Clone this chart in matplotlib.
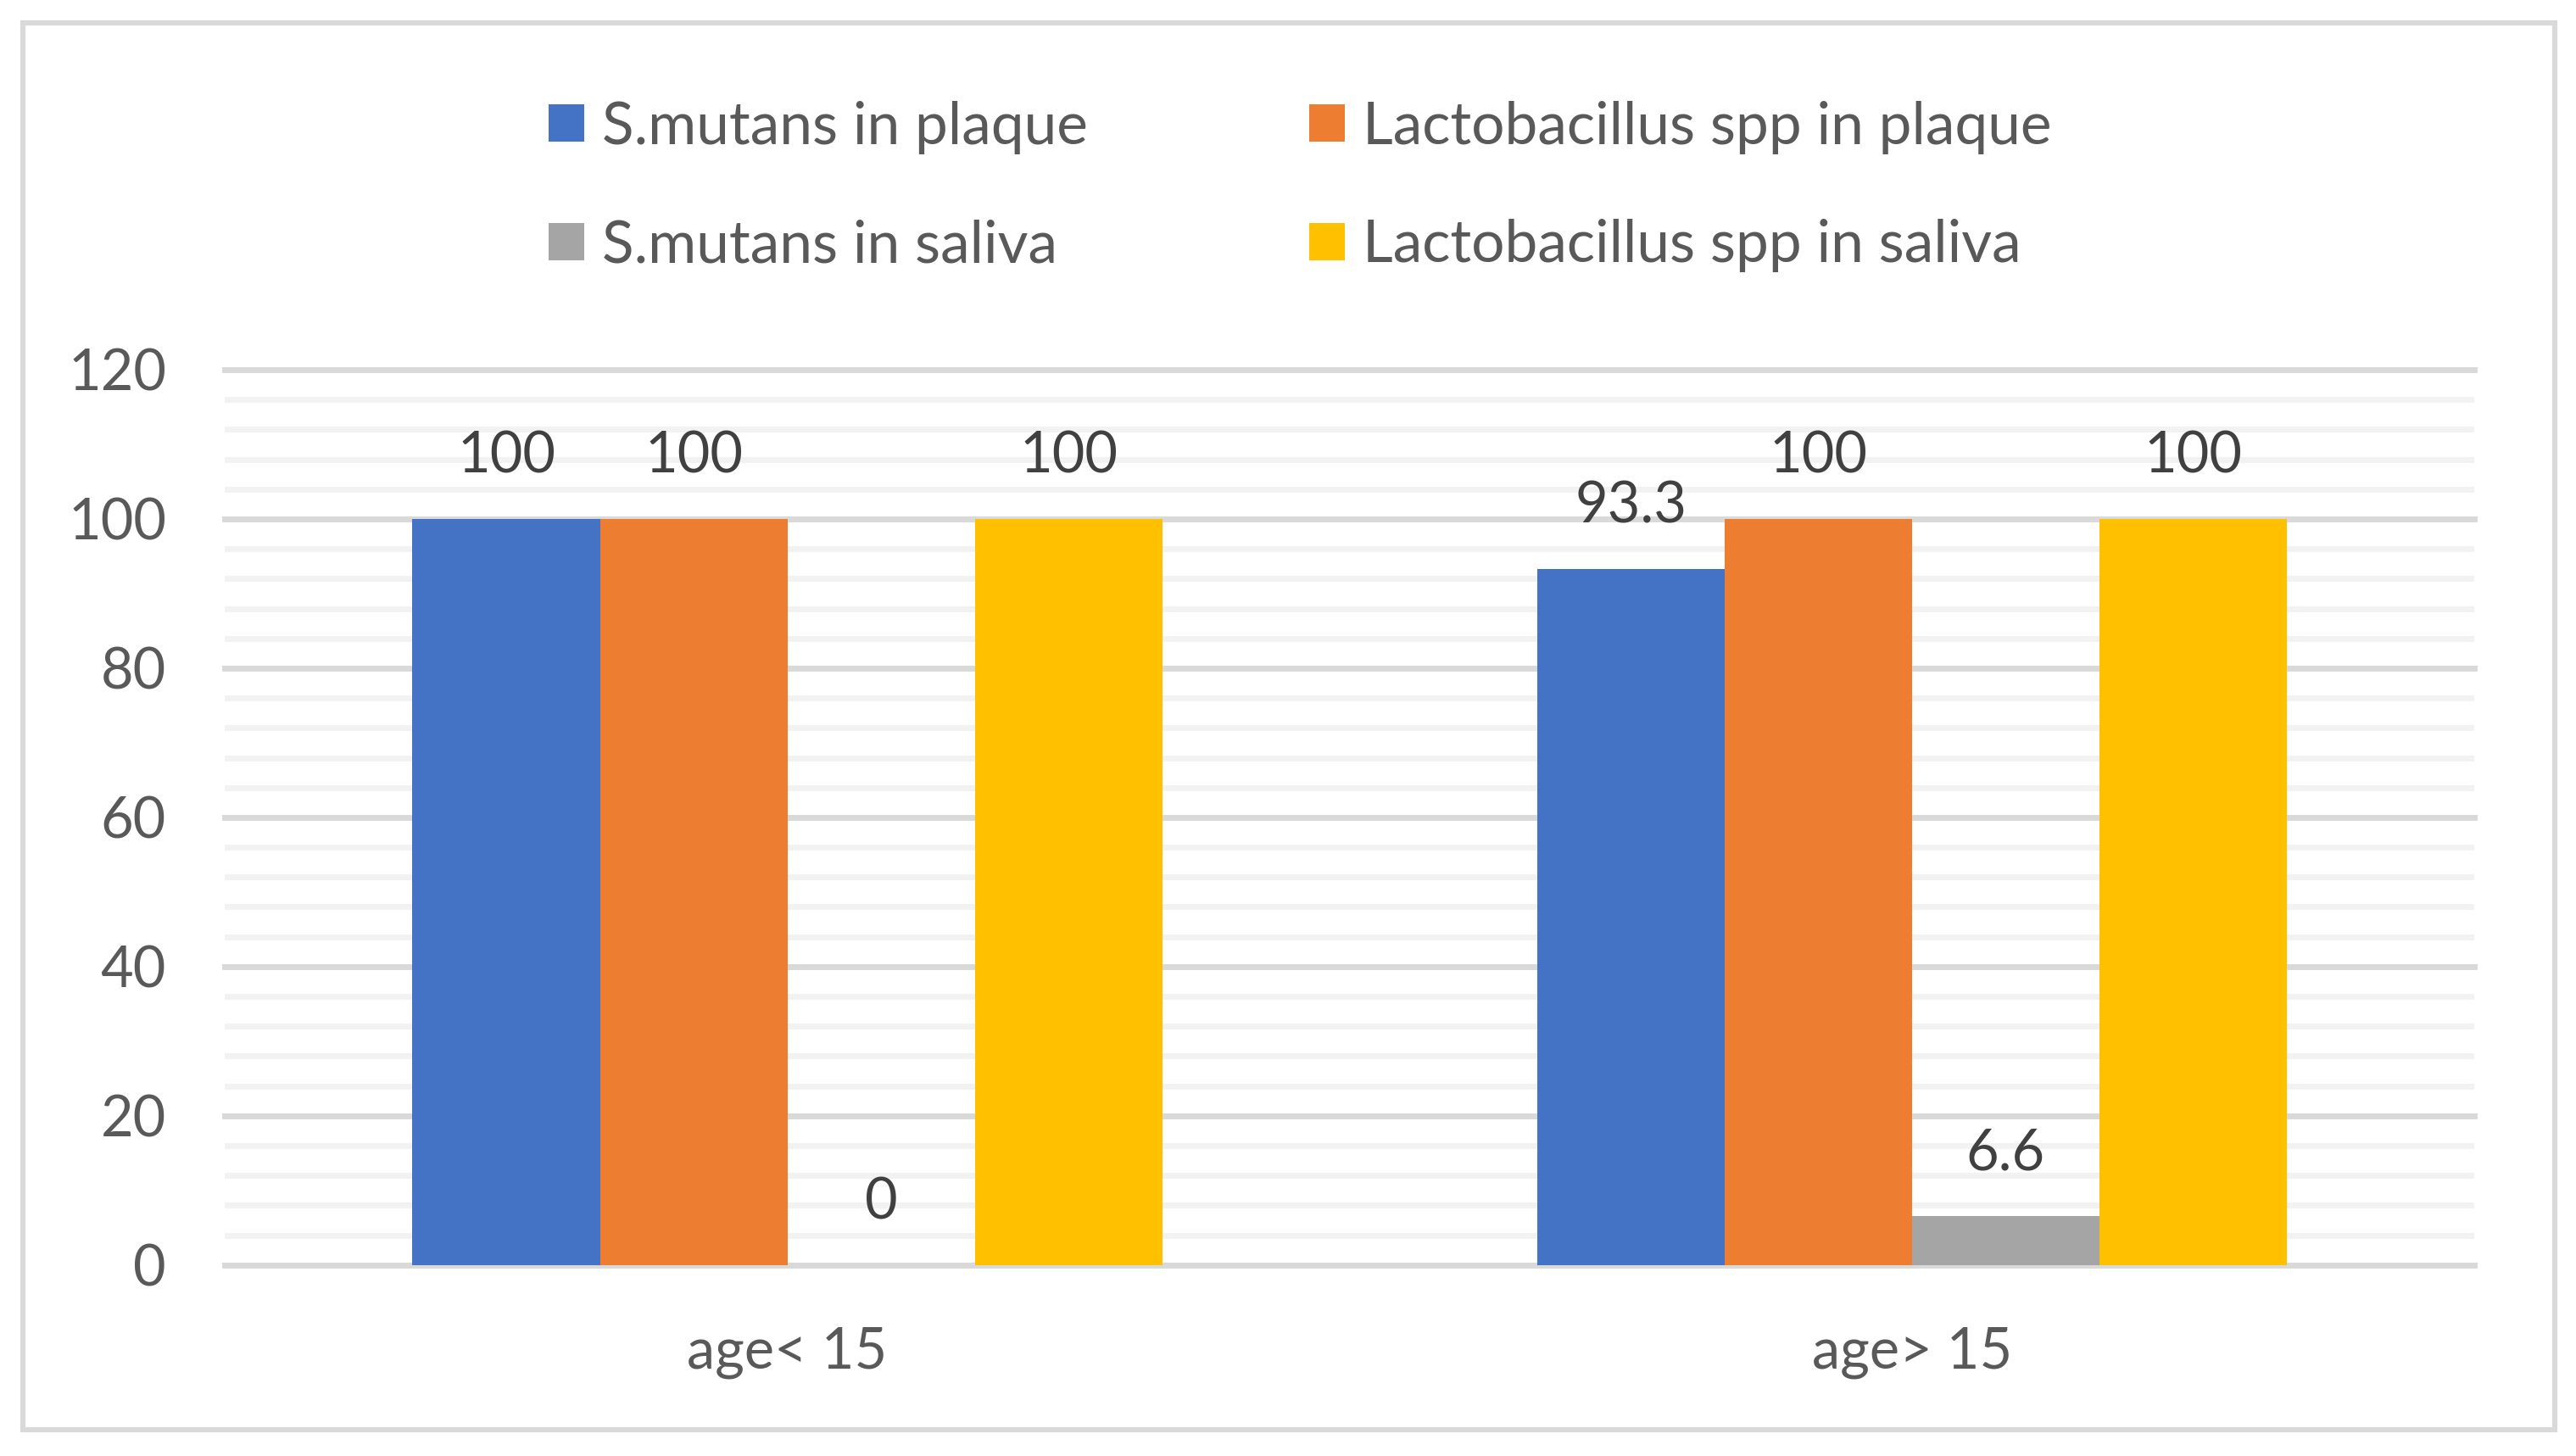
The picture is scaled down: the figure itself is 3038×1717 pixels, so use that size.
import matplotlib
matplotlib.use('Agg')
import matplotlib.pyplot as plt
from matplotlib.patches import Rectangle, Patch
import numpy as np

plt.rcParams['font.family'] = ['Lato', 'DejaVu Sans']

categories = ['age< 15', 'age> 15']
series_names = ['S.mutans in plaque', 'Lactobacillus spp in plaque',
                'S.mutans in saliva', 'Lactobacillus spp in saliva']
sm_plaque = [100, 93.3]
lb_plaque = [100, 100]
sm_saliva = [0, 6.6]
lb_saliva = [100, 100]
series_values = [sm_plaque, lb_plaque, sm_saliva, lb_saliva]
colors = ['#4472C4', '#ED7D31', '#A5A5A5', '#FFC000']
y_ticks = [0, 20, 40, 60, 80, 100, 120]

W, H = 1568.0, 886.2
fig = plt.figure(figsize=(3038 / 200, 1717 / 200), dpi=200)
ax = fig.add_axes([137 / W, 1 - 770 / H, (1506 - 137) / W, (770 - 225) / H])

x = np.arange(len(categories))
w = 1 / 6
FS = 24
for i, (name, vals, c) in enumerate(zip(series_names, series_values, colors)):
    offs = (i - 1.5) * w
    bars = ax.bar(x + offs, vals, w, color=c, zorder=3, label=name, linewidth=0)
    for b, v in zip(bars, vals):
        ax.annotate(f'{v:g}', (b.get_x() + b.get_width() / 2, v), xytext=(0, 19.5),
                    textcoords='offset points', ha='center', va='baseline',
                    fontsize=FS, color='#404040', zorder=4)

ax.set_xlim(-0.5, 1.5)
ax.set_ylim(0, 120)
ax.set_xticks(x)
ax.set_xticklabels(categories)
ax.set_yticks(y_ticks)
minor = [v for v in range(0, 121, 4) if v % 20 != 0]
ax.set_yticks(minor, minor=True)
ax.grid(which='minor', axis='y', color='#f2f2f2', linewidth=2.5, zorder=0)
ax.grid(which='major', axis='y', color='#d9d9d9', linewidth=2.5, zorder=1)
ax.grid(which='both', axis='x', visible=False)
ax.set_axisbelow(True)
for gl in ax.yaxis.get_gridlines():
    gl.set_clip_on(False)
ax.tick_params(axis='both', which='both', length=0)
ax.tick_params(axis='y', pad=25, labelsize=FS, labelcolor='#595959')
ax.tick_params(axis='x', pad=26, labelsize=FS, labelcolor='#595959')
for s in ax.spines.values():
    s.set_visible(False)

LFS = 25
handles = [Patch(facecolor=c, edgecolor='none') for c in colors]
common = dict(loc='center left', frameon=False, borderpad=0, borderaxespad=0,
              handlelength=0.6, handleheight=0.6, handletextpad=0.3,
              labelspacing=1.1, fontsize=LFS, labelcolor='#595959')
leg1 = fig.legend([handles[0], handles[2]], [series_names[0], series_names[2]],
                  bbox_to_anchor=(334 / W, 1 - 113.5 / H), **common)
leg2 = fig.legend([handles[1], handles[3]], [series_names[1], series_names[3]],
                  bbox_to_anchor=(797 / W, 1 - 113.5 / H), **common)

fig.patches.append(Rectangle((14 / W, 1 - 870 / H), (1555 - 14) / W, (870 - 14) / H,
                             transform=fig.transFigure, fill=False,
                             edgecolor='#d9d9d9', linewidth=2.2))

fig.savefig('out.png', dpi=200, facecolor='white')
